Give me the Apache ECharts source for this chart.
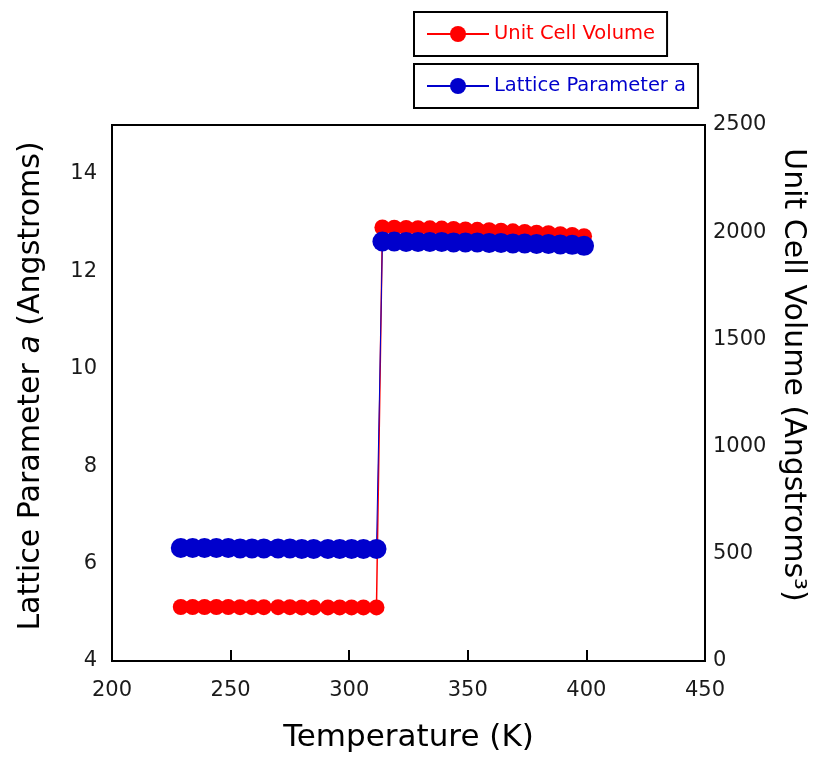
<!DOCTYPE html>
<html>
<head>
<meta charset="utf-8">
<script src="https://cdn.jsdelivr.net/npm/echarts@6/dist/echarts.min.js"></script>
<style>html,body{margin:0;padding:0;background:#fff}#c{width:819px;height:758px}</style>
</head>
<body>
<div id="c"></div>
<script>
// Temperatures (K)
const tempLow = [229, 234, 239, 244, 249, 254, 259, 264, 270, 275, 280, 285, 291, 296, 301, 306, 311.5];
const tempHigh = [314, 319, 324, 329, 334, 339, 344, 349, 354, 359, 364, 369, 374, 379, 384, 389, 394, 399];
// Lattice parameter a (Angstroms)
const aLow = [6.32, 6.32, 6.32, 6.32, 6.32, 6.31, 6.31, 6.31, 6.31, 6.31, 6.30, 6.30, 6.30, 6.30, 6.30, 6.30, 6.30];
const aHigh = [12.61, 12.61, 12.60, 12.60, 12.60, 12.60, 12.59, 12.59, 12.59, 12.58, 12.58, 12.57, 12.57, 12.56, 12.56, 12.55, 12.54, 12.52];
// Unit cell volume (Angstroms^3)
const vLow = [252, 252, 252, 252, 252, 251, 251, 251, 251, 251, 250, 250, 250, 250, 250, 250, 250];
const vHigh = [2022, 2021, 2020, 2019, 2018, 2017, 2015, 2013, 2011, 2009, 2007, 2004, 2001, 1998, 1995, 1991, 1987, 1981];

const xTicks = [200, 250, 300, 350, 400, 450];
const leftTicks = [4, 6, 8, 10, 12, 14];
const rightTicks = [0, 500, 1000, 1500, 2000, 2500];

const volData = tempLow.map((t, i) => [t, vLow[i]]).concat(tempHigh.map((t, i) => [t, vHigh[i]]));
const aData = tempLow.map((t, i) => [t, aLow[i]]).concat(tempHigh.map((t, i) => [t, aHigh[i]]));

const FONT = 'DejaVu Sans';
const chart = echarts.init(document.getElementById('c'));
chart.setOption({
  animation: false,
  backgroundColor: '#fff',
  textStyle: { fontFamily: FONT },
  grid: { left: 112, top: 125, width: 593, height: 538, show: true, borderColor: '#000', borderWidth: 2, backgroundColor: 'transparent' },
  legend: [
    {
      data: ['Unit Cell Volume'], left: 414, top: 12, orient: 'vertical',
      padding: [12, 12, 12, 12], itemWidth: 62, itemHeight: 20, itemGap: 0,
      borderColor: '#000', borderWidth: 2, backgroundColor: '#fff',
      textStyle: { color: '#ff0000', fontSize: 19.5, fontFamily: FONT }
    },
    {
      data: ['Lattice Parameter a'], left: 414, top: 64, orient: 'vertical',
      padding: [12, 12, 12, 12], itemWidth: 62, itemHeight: 20, itemGap: 0,
      borderColor: '#000', borderWidth: 2, backgroundColor: '#fff',
      textStyle: { color: '#0000cc', fontSize: 19.5, fontFamily: FONT }
    }
  ],
  xAxis: {
    type: 'value', min: 200, max: 450, interval: 50,
    name: 'Temperature (K)', nameLocation: 'middle', nameGap: 61,
    nameTextStyle: { fontSize: 31, color: '#000', fontFamily: FONT },
    axisLine: { show: true, lineStyle: { color: '#000', width: 2 } },
    axisTick: { show: true, inside: true, length: 11, lineStyle: { color: '#000', width: 2 } },
    axisLabel: { fontSize: 21, color: '#1a1a1a', margin: 19, formatter: v => xTicks.includes(v) ? String(v) : '' },
    splitLine: { show: false }
  },
  yAxis: [
    {
      type: 'value', min: 4, max: 15, interval: 2, position: 'left',
      name: 'Lattice Parameter {i|a} (Angstroms)', nameLocation: 'middle', nameGap: 66, nameRotate: 90,
      nameTextStyle: { fontSize: 30, color: '#000', fontFamily: FONT, padding: [0, 0, 0, 14], rich: { i: { fontSize: 30, fontStyle: 'italic', color: '#000', fontFamily: FONT } } },
      axisLine: { show: true, lineStyle: { color: '#000', width: 2 } },
      axisTick: { show: false },
      axisLabel: { fontSize: 21, color: '#1a1a1a', margin: 15, formatter: v => leftTicks.includes(v) ? String(v) : '' },
      splitLine: { show: false }
    },
    {
      type: 'value', min: 0, max: 2500, interval: 500, position: 'right',
      name: 'Unit Cell Volume (Angstroms³)', nameLocation: 'middle', nameGap: 72, nameRotate: -90,
      nameTextStyle: { fontSize: 30, color: '#000', fontFamily: FONT, padding: [0, 36, 0, 0] },
      axisLine: { show: true, lineStyle: { color: '#000', width: 2 } },
      axisTick: { show: false },
      axisLabel: { fontSize: 21, color: '#1a1a1a', margin: 8, formatter: v => rightTicks.includes(v) ? String(v) : '' },
      splitLine: { show: false }
    }
  ],
  series: [
    {
      name: 'Unit Cell Volume', type: 'line', yAxisIndex: 1, data: volData,
      symbol: 'circle', symbolSize: 16, showSymbol: true,
      itemStyle: { color: '#ff0000' }, lineStyle: { color: '#ff0000', width: 1.5 }, z: 2
    },
    {
      name: 'Lattice Parameter a', type: 'line', yAxisIndex: 0, data: aData,
      symbol: 'circle', symbolSize: 20, showSymbol: true,
      itemStyle: { color: '#0000cc' }, lineStyle: { color: '#0000cc', width: 1 }, z: 3
    }
  ]
});
</script>
</body>
</html>
